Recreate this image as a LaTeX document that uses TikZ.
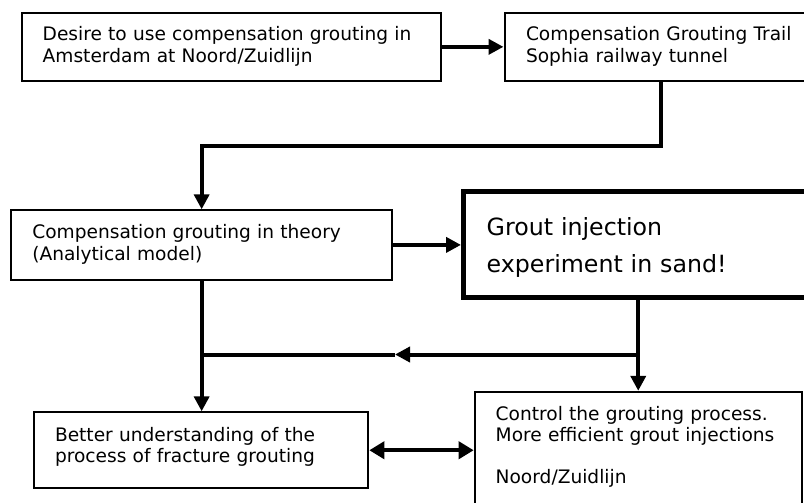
\documentclass[tikz,border=0pt]{standalone}
\usepackage{fontspec}
\setmainfont{DejaVu Sans}
\usetikzlibrary{arrows.meta}
\begin{document}
\begin{tikzpicture}[x=1pt,y=-1pt,
  box/.style={draw=black, line width=2pt, rectangle, anchor=north west,
    inner ysep=0pt, align=left, font=\fontsize{18.6pt}{21.2pt}\selectfont},
  bigbox/.style={box, line width=5pt, font=\fontsize{23.7pt}{37.7pt}\selectfont},
  conn/.style={line width=4pt, draw=black},
  arr/.style={conn, -{Triangle[length=15pt,width=15pt]}},
  darr/.style={conn, {Triangle[length=15pt,width=17pt]}-{Triangle[length=15pt,width=17pt]}}]
\useasboundingbox (0,0) rectangle (804,503);
\fill[white] (0,0) rectangle (804,503);
\begin{scope}
\clip (0,0) rectangle (804,503);
\node[box, inner xsep=20.5pt, text width=377.3pt, text height=28.3pt, text depth=40pt]
  (box1) at (21.2,11.7) {Desire to use compensation grouting in\\Amsterdam at Noord/Zuidlijn};
\node[box, inner xsep=21.5pt, text width=312.5pt, text height=28.3pt, text depth=40pt]
  (box2) at (503.5,11.7) {Compensation Grouting Trail\\Sophia railway tunnel};
\node[box, inner xsep=21pt, text width=338.7pt, text height=28.5pt, text depth=40.7pt]
  (box3) at (10.3,209.3) {Compensation grouting in theory\\(Analytical model)};
\node[bigbox, inner xsep=23.2pt, text width=370pt, text height=43.5pt, text depth=62.5pt]
  (big) at (461,189) {Grout injection\\experiment in sand!};
\node[box, inner xsep=20.6pt, text width=292.7pt, text height=28.7pt, text depth=47.2pt]
  (box5) at (33.4,411.3) {Better understanding of the\\process of fracture grouting};
\node[box, inner xsep=21pt, text width=285.1pt, text height=28.2pt, text depth=150pt]
  (box6) at (473.7,390.8) {Control the grouting process.\\More efficient grout injections\\[21.2pt]Noord/Zuidlijn};
\coordinate (j1) at (661,145.7);
\coordinate (j2) at (638.25,354.5);
\coordinate (am) at (395,354.5);
\draw[arr] (box1.east) -- (box2.west);
\draw[arr] (box2.south -| j1) -- (j1) -| (box3.north);
\draw[arr] (box3.east) -- (box3.east -| big.west);
\draw[arr] (box6.north |- big.south) -- (box6.north);
\draw[arr] (j2) -- (am);
\draw[conn] (am) -- (box3.south |- am);
\draw[arr] (box3.south) -- (box3.south |- box5.north);
\draw[darr] (box5.east) -- (box5.east -| box6.west);
\end{scope}
\end{tikzpicture}
\end{document}
